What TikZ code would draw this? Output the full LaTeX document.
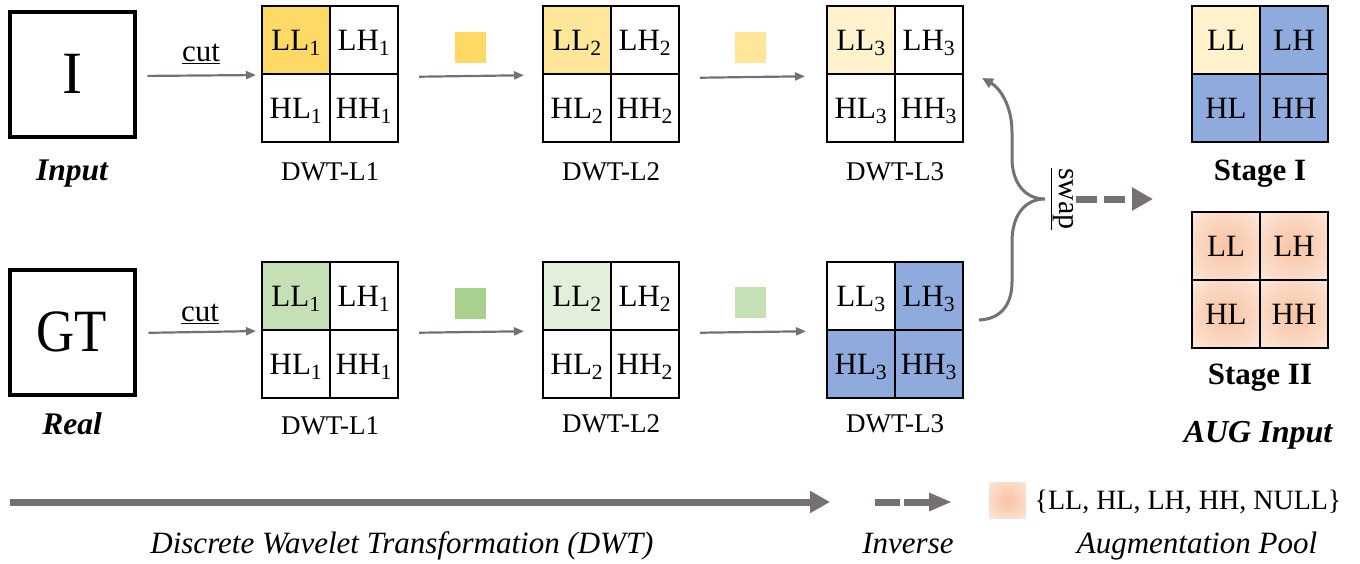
\documentclass[tikz,border=0pt]{standalone}
\usepackage{fontspec}
\usepackage{graphicx}
\setmainfont{Liberation Serif}
\usetikzlibrary{arrows.meta}
\definecolor{arrowgray}{RGB}{118,113,113}
\definecolor{yA}{HTML}{FFD966}
\definecolor{yB}{HTML}{FFE699}
\definecolor{yC}{HTML}{FFF2CC}
\definecolor{gA}{HTML}{C5E0B4}
\definecolor{gSqA}{HTML}{A9D18E}
\definecolor{gB}{HTML}{E2F0D9}
\definecolor{gSqB}{HTML}{C5E0B4}
\definecolor{bandblue}{HTML}{8FAADC}
\definecolor{glowin}{HTML}{F9C3A2}
\definecolor{glowmid}{HTML}{FBDBC8}
\definecolor{glowout}{HTML}{FDEAE0}
\pgfdeclareradialshading{glow}{\pgfpoint{0bp}{0bp}}{color(0bp)=(glowin); color(25bp)=(glowmid); color(36bp)=(glowout); color(50bp)=(glowout)}
\newcommand\dwtgrid[8]{%
  \node[cell,fill=#5] (#1-LL) at (#2-34,#3-34) {LL#4};
  \node[cell,fill=#6] (#1-LH) at (#2+34,#3-34) {LH#4};
  \node[cell,fill=#7] (#1-HL) at (#2-34,#3+34) {HL#4};
  \node[cell,fill=#8] (#1-HH) at (#2+34,#3+34) {HH#4};
}
\begin{document}
\begin{tikzpicture}[x=1pt,y=-1pt,
  cell/.style={draw=black, line width=2pt, minimum size=68pt, inner sep=0pt, text depth=0pt, font=\fontsize{31}{31}\selectfont},
  glowcell/.style={cell, shading=glow},
  img/.style={draw=black, line width=4pt, minimum width=125pt, minimum height=125pt, inner sep=0pt, font=\fontsize{60}{60}\selectfont},
  lab/.style={anchor=base, font=\fontsize{27}{27}\selectfont},
  blab/.style={anchor=base, font=\fontsize{31.5}{31.5}\selectfont\bfseries\itshape},
  stlab/.style={anchor=base, font=\fontsize{31}{31}\selectfont\bfseries},
  cutlab/.style={anchor=base, font=\fontsize{31}{31}\selectfont},
  leglab/.style={anchor=base, font=\fontsize{31}{31}\selectfont\itshape},
  conn/.style={draw=arrowgray, line width=2.2pt, -{Triangle[length=10pt,width=8pt]}},
  bracelink/.style={draw=arrowgray, line width=3pt, -{Triangle[length=11pt,width=10pt]}},
  sq/.style={minimum size=31pt, inner sep=0pt},
  bigdash/.style={draw=arrowgray, line width=7pt, dash pattern=on 21pt off 7pt, -{Triangle[length=21pt,width=22pt]}},
  legdash/.style={draw=arrowgray, line width=7pt, dash pattern=on 25pt off 4pt, -{Triangle[length=23pt,width=17pt]}},
  legarrow/.style={draw=arrowgray, line width=7pt, -{Triangle[length=20pt,width=21pt]}}
]
\useasboundingbox (0,0) rectangle (1360,563);

% ---------- top row ----------
\node[img] (inp) at (72,74) {I};
\node[blab] (inp-l) at (72,180) {Input};
\dwtgrid{t1}{330}{74}{\textsubscript{1}}{yA}{white}{white}{white}
\dwtgrid{t2}{611}{74}{\textsubscript{2}}{yB}{white}{white}{white}
\dwtgrid{t3}{895}{74}{\textsubscript{3}}{yC}{white}{white}{white}
\node[lab] (t1-l) at (330,180) {DWT-L1};
\node[lab] (t2-l) at (611,180) {DWT-L2};
\node[lab] (t3-l) at (895,180) {DWT-L3};
\node[sq, fill=yA] (tsq1) at (470,47) {};
\node[sq, fill=yB] (tsq2) at (750,47) {};
\node[cutlab] (tcut) at (201,61) {\underline{cut}};
\draw[conn, shorten <=11pt, shorten >=5pt] ([yshift=-2pt]inp.east) -- ([yshift=-2pt]t1-HL.north west);
\draw[conn, shorten <=20pt, shorten >=18pt] ([yshift=-2pt]t1-LH.south east) -- ([yshift=-2pt]t2-HL.north west);
\draw[conn, shorten <=20pt, shorten >=21pt] ([yshift=-3pt]t2-LH.south east) -- ([yshift=-3pt]t3-HL.north west);

% ---------- bottom row ----------
\node[img] (gt) at (72,332) {\scalebox{0.88}[1]{GT}};
\node[blab] (gt-l) at (72,434) {Real};
\dwtgrid{b1}{330}{330}{\textsubscript{1}}{gA}{white}{white}{white}
\dwtgrid{b2}{611}{330}{\textsubscript{2}}{gB}{white}{white}{white}
\dwtgrid{b3}{895}{330}{\textsubscript{3}}{white}{bandblue}{bandblue}{bandblue}
\node[lab] (b1-l) at (330,434) {DWT-L1};
\node[lab] (b2-l) at (611,432) {DWT-L2};
\node[lab] (b3-l) at (895,432) {DWT-L3};
\node[sq, fill=gSqA] (bsq1) at (470,303) {};
\node[sq, fill=gSqB] (bsq2) at (750,302) {};
\node[cutlab] (bcut) at (200,321) {\underline{cut}};
\draw[conn, shorten <=12pt, shorten >=5pt] ([yshift=-1pt]gt.east) -- ([yshift=-2pt]b1-HL.north west);
\draw[conn, shorten <=20pt, shorten >=18pt] ([yshift=-2pt]b1-LH.south east) -- ([yshift=-2pt]b2-HL.north west);
\draw[conn, shorten <=20pt, shorten >=20pt] ([yshift=-2pt]b2-LH.south east) -- ([yshift=-2pt]b3-HL.north west);

% ---------- swap ----------
\coordinate (sw-start) at ([xshift=15pt,yshift=11pt]b3-LH.south east);
\coordinate (sw-end) at ([xshift=18pt,yshift=-5pt]t3-HH.north east);
\coordinate (sw-tip) at (1045,199);
\draw[bracelink] (sw-start) .. controls (1003,319) and (1012,302) .. (1012,282)
  -- (1012,242) .. controls (1012,215) and (1025,199) .. (sw-tip)
  .. controls (1025,199) and (1012,183) .. (1012,158)
  -- (1012,132) .. controls (1012,106) and (1000,88) .. (sw-end);
\node[rotate=-90, font=\fontsize{30}{30}\selectfont] (swap) at (1062,199) {\underline{swap}};

% ---------- stages ----------
\dwtgrid{s1}{1260}{74}{}{yC}{bandblue}{bandblue}{bandblue}
\node[stlab] (s1-l) at (1260,180) {Stage I};
\node[glowcell] (s2-LL) at (1226,246) {LL};
\node[glowcell] (s2-LH) at (1294,246) {LH};
\node[glowcell] (s2-HL) at (1226,314) {HL};
\node[glowcell] (s2-HH) at (1294,314) {HH};
\node[stlab] (s2-l) at (1260,384) {Stage II};
\node[blab, font=\fontsize{32}{32}\selectfont\bfseries\itshape] (aug-l) at (1258,442) {AUG Input};
\draw[bigdash] ([xshift=14pt]swap.center) -- ([xshift=91pt]swap.center);

% ---------- legend ----------
\coordinate (lg-a) at (10,502);
\coordinate (lg-b) at (830,502);
\draw[legarrow] (lg-a) -- (lg-b);
\coordinate (lg-c) at (875,502);
\coordinate (lg-d) at (952,502);
\draw[legdash] (lg-c) -- (lg-d);
\node[minimum width=37pt, minimum height=36pt, inner sep=0pt, shading=glow] (lg-glow) at (1007.5,500) {};
\node[anchor=base, font=\fontsize{28}{28}\selectfont] (lg-set) at (1188,509) {\{LL, HL, LH, HH, NULL\}};
\node[leglab] (lg-dwt) at (402,553) {Discrete Wavelet Transformation (DWT)};
\node[leglab] (lg-inv) at (908,553) {Inverse};
\node[leglab] (lg-aug) at (1197,553) {Augmentation Pool};
\end{tikzpicture}
\end{document}
